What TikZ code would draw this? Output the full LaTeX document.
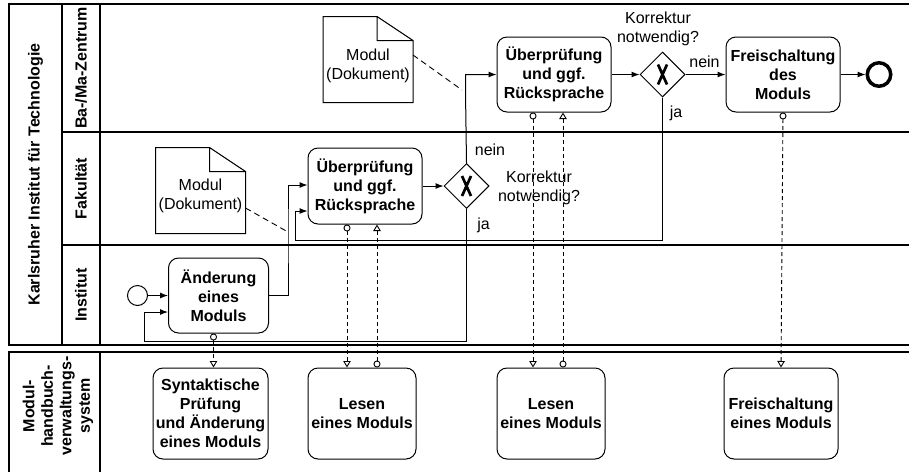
\documentclass[tikz,border=0pt]{standalone}
\usepackage{fontspec}
\setmainfont{Liberation Sans}
\usetikzlibrary{arrows.meta,positioning,shapes.geometric}

\tikzset{
  task/.style={draw,rounded corners=10pt,align=center,font=\fontsize{16}{19}\selectfont\bfseries,
    inner sep=2pt,line width=1pt,minimum width=114pt,minimum height=75pt},
  gateway/.style={diamond,draw,line width=1pt,minimum width=45pt,minimum height=45pt,inner sep=0pt,
    path picture={\draw[line width=2.7pt]
      ([shift={(-4.5pt,-10pt)}]path picture bounding box.center) -- ([shift={(4.5pt,10pt)}]path picture bounding box.center)
      ([shift={(-4.5pt,10pt)}]path picture bounding box.center) -- ([shift={(4.5pt,-10pt)}]path picture bounding box.center);}},
  lbl/.style={inner sep=0pt,align=center},
  lane/.style={rotate=90,font=\fontsize{16}{18.5}\selectfont\bfseries,align=center,inner sep=0pt},
  dokument/.style={minimum width=89pt,minimum height=85pt,inner sep=0pt},
  assoc/.style={line width=0.9pt,dash pattern=on 6pt off 4pt},
  msg/.style={line width=0.9pt,dash pattern=on 4pt off 3pt,
    {Circle[open,length=7pt,width=7pt]}-{Triangle[open,length=6.5pt,width=7.5pt]}},
}

\begin{document}
\begin{tikzpicture}[x=1pt,y=-1pt,>={Latex[length=8pt,width=6pt]},line width=1pt,font=\fontsize{16}{19}\selectfont]
  \useasboundingbox (0,0) rectangle (909,472);
  % Pools und Lanes
  \draw[line width=1.3pt] (909,4) -- (9,4) -- (9,345) -- (909,345);
  \draw[line width=1.3pt] (62,4) -- (62,345) (100,4) -- (100,345);
  \draw[line width=1.3pt] (62,132) -- (909,132) (62,245) -- (909,245);
  \draw[line width=1.3pt] (9,472) -- (9,352) -- (909,352) (100,352) -- (100,472);
  \node[lane] (kit) at (35.5,174.5) {Karlsruher Institut für Technologie};
  \node[lane] (zentrum) at (81,68) {Ba-/Ma-Zentrum};
  \node[lane] (fakultaet) at (81,188.5) {Fakultät};
  \node[lane] (institut) at (81,295) {Institut};
  \node[lane] (system) at (58,406) {Modul-\\handbuch-\\verwaltungs-\\system};

  % Prozess
  \node[draw,circle,minimum size=20pt,inner sep=0pt] (start) at (137.5,295.5) {};
  \node[task,minimum width=100pt] (aend) [right=20pt of start] {Änderung\\eines\\Moduls};
  \node[task,minimum height=76pt] (uebFak) at (365,186) {Überprüfung\\und ggf.\\Rücksprache};
  \node[gateway] (gwFak) [right=21pt of uebFak] {};
  \node[task] (uebZen) at (554,74.5) {Überprüfung\\und ggf.\\Rücksprache};
  \node[gateway] (gwZen) [right=28pt of uebZen] {};
  \node[task] (frei) [right=40pt of gwZen] {Freischaltung\\des\\Moduls};
  \node[draw,circle,line width=3.5pt,minimum size=23.5pt,inner sep=0pt] (ende) [right=25pt of frei] {};

  \node[dokument] (dokFak) at (200.5,190.5) {};
  \node[dokument] (dokZen) at (368,59.5) {};
  \foreach \d in {dokFak,dokZen}{
    \draw (\d.north west) -- ([xshift=-36pt]\d.north east) -- ([yshift=-24pt]\d.north east)
      -- (\d.south east) -- (\d.south west) -- cycle
      ([xshift=-36pt]\d.north east) |- ([yshift=-24pt]\d.north east);
  }
  \node[lbl] (dokFakText) at ([yshift=-5.5pt]dokFak.center) {Modul\\(Dokument)};
  \node[lbl] (dokZenText) at ([yshift=-6.5pt]dokZen.center) {Modul\\(Dokument)};

  % Modulhandbuchverwaltungssystem
  \node[task,minimum width=115pt,minimum height=91pt] (syn) at (210.5,413.5) {Syntaktische\\Prüfung\\und Änderung\\eines Moduls};
  \node[task,minimum width=108pt,minimum height=91pt] (lesen1) at (362,413.5) {Lesen\\eines Moduls};
  \node[task,minimum width=108pt,minimum height=91pt] (lesen2) at (551,413.5) {Lesen\\eines Moduls};
  \node[task,minimum height=91pt] (freiM) at (781,413.5) {Freischaltung\\eines Moduls};

  % Sequenzfluss
  \coordinate (knick1) at (288,232);
  \coordinate (knick2) at (465.5,92);
  \coordinate (rueck1) at (295,240);
  \coordinate (rueck2) at (144,341);
  \path[->]
    (start) edge (aend)
    (uebFak) edge (gwFak)
    (uebZen) edge (gwZen)
    (gwZen) edge (frei)
    (frei) edge (ende);
  \draw[->] (aend.east) -| (knick1) |- ([yshift=1pt]uebFak.west);
  \draw[->] (gwFak.north) -- (knick2) |- (uebZen.west);
  \draw[->] (gwZen.south) |- (rueck1) |- ([yshift=-25pt]uebFak.west);
  \draw[->] (gwFak.south) |- (rueck2) |- ([yshift=-16.5pt]aend.west);
  \draw[assoc] ([yshift=-17.5pt]dokFak.east) -- (knick1);
  \draw[assoc] ([yshift=4.5pt]dokZen.east) -- ([xshift=-3.5pt,yshift=2pt]knick2);

  \node[lbl] (neinFak) at ([shift={(23.5pt,13pt)}]gwFak.north) {nein};
  \node[lbl] (jaFak) at ([shift={(17pt,-16pt)}]gwFak.south) {ja};
  \node[lbl] (frageFak) at ([shift={(72.5pt,-1.5pt)}]gwFak.center) {Korrektur\\notwendig?};
  \node[lbl] (frageZen) at ([shift={(-4.5pt,23pt)}]gwZen.north) {Korrektur\\notwendig?};
  \node[lbl] (neinZen) at ([shift={(19pt,12.5pt)}]gwZen.east) {nein};
  \node[lbl] (jaZen) at ([shift={(13.5pt,-16pt)}]gwZen.south) {ja};

  % Nachrichtenfluss
  \draw[msg] ([xshift=-5pt]aend.south) -- ([xshift=-5pt]aend.south |- syn.north);
  \draw[msg] ([xshift=-18pt]uebFak.south) -- ([xshift=-18pt]uebFak.south |- lesen1.north);
  \draw[msg] ([xshift=12pt]uebFak.south |- lesen1.north) -- ([xshift=12pt]uebFak.south);
  \draw[msg] ([xshift=-21pt]uebZen.south) -- ([xshift=-21pt]uebZen.south |- lesen2.north);
  \draw[msg] ([xshift=9pt]uebZen.south |- lesen2.north) -- ([xshift=9pt]uebZen.south);
  \draw[msg] (frei.south) -- (freiM.north);
\end{tikzpicture}
\end{document}
